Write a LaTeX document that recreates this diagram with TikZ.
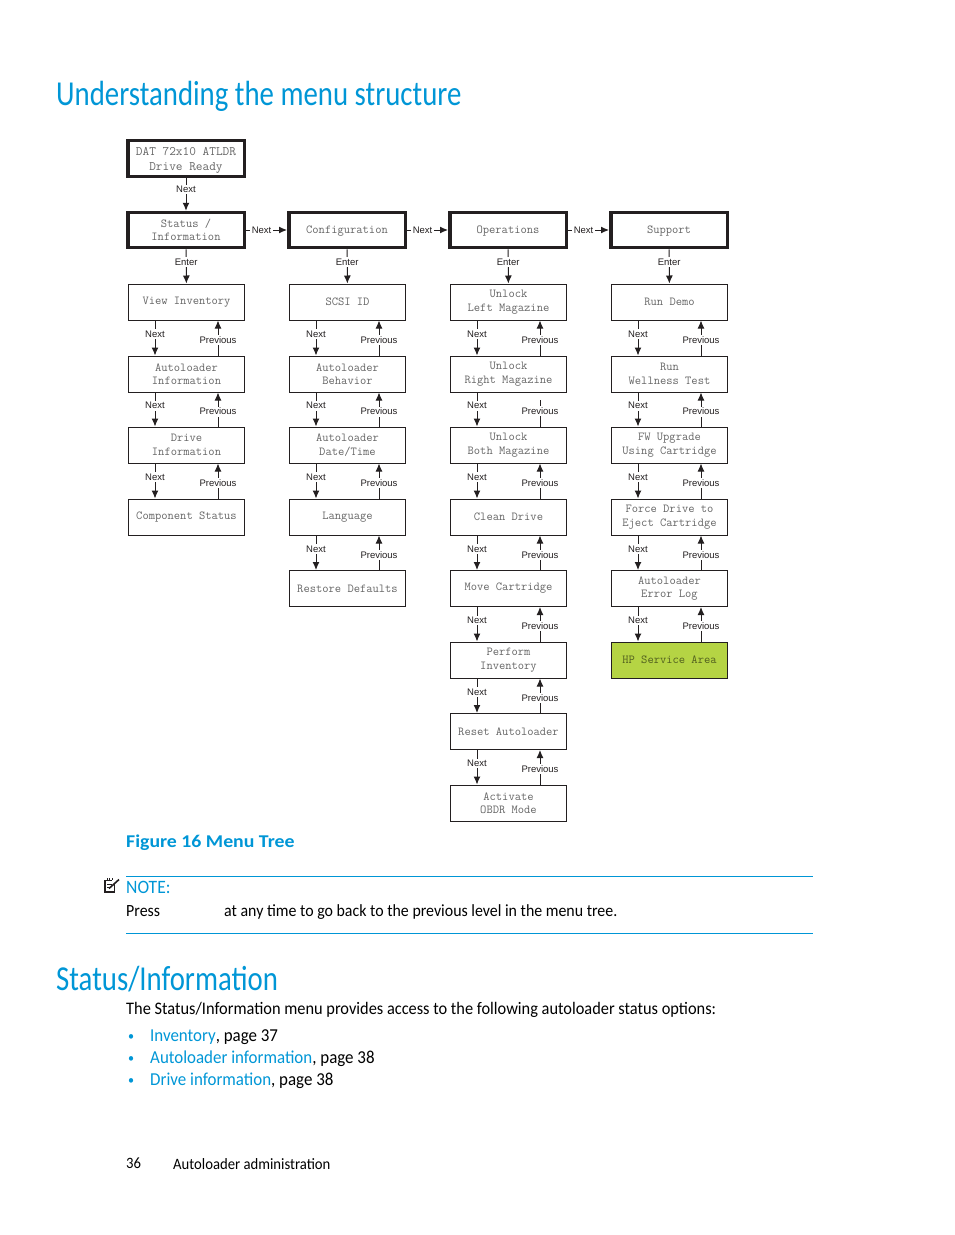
\documentclass[tikz,border=0pt]{standalone}
\usepackage{fontspec}
\usetikzlibrary{arrows.meta,calc}
\setmainfont{Carlito}
\newfontfamily\titlefont[FakeStretch=0.823]{Carlito}
\newfontfamily\bodyfont[FakeStretch=0.93]{Carlito}
\newfontfamily\capfont[FakeStretch=1.1]{Carlito}
\newfontfamily\labfont{Liberation Sans}
\definecolor{hpblue}{HTML}{0096D6}
\definecolor{lcdgray}{HTML}{666666}
\definecolor{linedark}{HTML}{231F20}
\definecolor{hpgreen}{HTML}{B5D444}
\tikzset{
 menubox/.style={draw=linedark,line width=1pt,minimum width=116pt,minimum height=36pt,inner sep=0pt,align=center,
   text=lcdgray,font=\ttfamily\fontsize{12.2}{13.5}\selectfont},
 topbox/.style={menubox,line width=3.5pt,minimum width=116.5pt,minimum height=35pt},
 oneline/.style={text height=9.5pt,text depth=2.5pt},
 greenbox/.style={menubox,fill=hpgreen,text=black!55!hpgreen},
 conn/.style={draw=linedark,line width=1pt,-{Latex[length=8pt,width=7pt]}},
 plainconn/.style={draw=linedark,line width=1pt},
 lab/.style={fill=white,inner sep=1.5pt,text=linedark,font=\labfont\fontsize{9.5}{10}\selectfont},
 title/.style={anchor=base west,inner sep=0pt,text=hpblue,font=\titlefont\fontsize{35}{40}\selectfont},
 body/.style={anchor=base west,inner sep=0pt,text=black,font=\bodyfont\fontsize{17.6}{20}\selectfont},
 notebody/.style={body,font=\bodyfont\fontsize{17.1}{20}\selectfont},
 listbody/.style={body,font=\bodyfont\fontsize{18.2}{20}\selectfont},
 link/.style={listbody,text=hpblue},
 footbody/.style={body,font=\bodyfont\fontsize{15.8}{20}\selectfont},
 rulel/.style={draw=hpblue,line width=1pt},
}
\newcommand{\nxt}[2]{\draw[conn] ($(#1.south)+(-31.5,0)$) -- node[lab,pos=.39] (#1-next) {Next} ($(#2.north)+(-31.5,0)$);}
\newcommand{\prv}[2]{\draw[conn] ($(#2.north)+(31.5,0)$) -- node[lab,pos=.44] (#2-prev) {Previous} ($(#1.south)+(31.5,0)$);}
\newcommand{\both}[2]{\nxt{#1}{#2}\prv{#1}{#2}}
\begin{document}
\begin{tikzpicture}[x=1pt,y=-1pt]
\useasboundingbox (0,0) rectangle (954,1235);
\node[title] (t1) at (56,105) {Understanding the menu structure};
% top row
\node[topbox,minimum height=36pt,font=\ttfamily\fontsize{12.95}{15}\selectfont] (top) at (186,158.5) {\rule{0pt}{11.5pt}DAT 72x10 ATLDR\\Drive Ready};
\node[topbox] (c1) at (186,230) {Status /\\Information};
\node[topbox,oneline] (c2) at (347,230) {Configuration};
\node[topbox,oneline] (c3) at (508,230) {Operations};
\node[topbox,oneline] (c4) at (669,230) {Support};
\draw[conn] (top) -- node[lab,pos=.35] (top-next) {Next} (c1);
\draw[conn] (c1) -- node[lab,pos=.38] (c1-next) {Next} (c2);
\draw[conn] (c2) -- node[lab,pos=.38] (c2-next) {Next} (c3);
\draw[conn] (c3) -- node[lab,pos=.38] (c3-next) {Next} (c4);
% column 1
\node[menubox] (a1) at (186.5,302) {View Inventory};
\node[menubox] (a2) at (186.5,374) {Autoloader\\Information};
\node[menubox] (a3) at (186.5,445) {Drive\\Information};
\node[menubox] (a4) at (186.5,517) {Component Status};
% column 2
\node[menubox] (b1) at (347.5,302) {SCSI ID};
\node[menubox] (b2) at (347.5,374) {Autoloader\\Behavior};
\node[menubox] (b3) at (347.5,445) {Autoloader\\Date/Time};
\node[menubox] (b4) at (347.5,517) {Language};
\node[menubox] (b5) at (347.5,588.5) {Restore Defaults};
% column 3
\node[menubox] (d1) at (508.5,302) {Unlock\\Left Magazine};
\node[menubox] (d2) at (508.5,374) {Unlock\\Right Magazine};
\node[menubox] (d3) at (508.5,445) {Unlock\\Both Magazine};
\node[menubox] (d4) at (508.5,517) {Clean Drive};
\node[menubox] (d5) at (508.5,588.5) {Move Cartridge};
\node[menubox] (d6) at (508.5,660) {Perform\\Inventory};
\node[menubox] (d7) at (508.5,731.5) {Reset Autoloader};
\node[menubox] (d8) at (508.5,803) {Activate\\OBDR Mode};
% column 4
\node[menubox] (e1) at (669.5,302) {Run Demo};
\node[menubox] (e2) at (669.5,374) {Run\\Wellness Test};
\node[menubox] (e3) at (669.5,445) {FW Upgrade\\Using Cartridge};
\node[menubox] (e4) at (669.5,517) {Force Drive to\\Eject Cartridge};
\node[menubox] (e5) at (669.5,588.5) {Autoloader\\Error Log};
\node[greenbox] (e6) at (669.5,660) {HP Service Area};
% enter
\foreach \u/\v in {c1/a1,c2/b1,c3/d1,c4/e1}{
  \draw[conn] (\u) -- node[lab,pos=.37] (\u-enter) {Enter} (\v);
}
\both{a1}{a2}\both{a2}{a3}\both{a3}{a4}
\both{b1}{b2}\both{b2}{b3}\both{b3}{b4}\both{b4}{b5}
\both{d1}{d2}\nxt{d2}{d3}
\coordinate (d2gap) at ($(d2.south)+(31.5,7)$);
\draw[plainconn] ($(d3.north)+(31.5,0)$) -- node[lab,pos=.57] (d3-prev) {Previous} (d2gap);
\both{d3}{d4}\both{d4}{d5}\both{d5}{d6}\both{d6}{d7}\both{d7}{d8}
\both{e1}{e2}\both{e2}{e3}\both{e3}{e4}\both{e4}{e5}\both{e5}{e6}
% caption and note
\node[body,text=hpblue,font=\capfont\bfseries\fontsize{18}{20}\selectfont] (cap) at (126,847) {Figure 16 Menu Tree};
% note icon
\draw[linedark,line width=1.2pt] (114.5,884) -- (114.5,892) -- (105,892) -- (105,880.5) -- (112,880.5);
\draw[linedark,line width=.7pt] (107,884.5) -- (111.5,884.5) (107,887) -- (110,887);
\draw[linedark,line width=1.6pt] (109,888.5) -- (119,879.5);
\draw[linedark,line width=.7pt] (107,880) -- (107,878) (109.5,880) -- (109.5,878) (112,880) -- (112,878);
\coordinate (r1a) at (126,876.5); \coordinate (r1b) at (813,876.5);
\coordinate (r2a) at (126,933.5); \coordinate (r2b) at (813,933.5);
\draw[rulel] (r1a) -- (r1b);
\draw[rulel] (r2a) -- (r2b);
\node[body,text=hpblue,font=\bodyfont\fontsize{18.9}{20}\selectfont] (note) at (126,893) {NOTE:};
\node[notebody] (press) at (126,916.5) {Press};
\node[notebody] (press2) at (224,916.5) {at any time to go back to the previous level in the menu tree.};
\node[title] (t2) at (56,990) {Status/Information};
\node[body] (intro) at (126,1014) {The Status/Information menu provides access to the following autoloader status options:};
\node[link,font=\bodyfont\fontsize{13}{20}\selectfont] (b1m) at (128,1040) {•};
\node[link] (l1) at (150,1041) {Inventory\textcolor{black}{, page 37}};
\node[link,font=\bodyfont\fontsize{13}{20}\selectfont] (b2m) at (128,1062) {•};
\node[link] (l2) at (150,1063) {Autoloader information\textcolor{black}{, page 38}};
\node[link,font=\bodyfont\fontsize{13}{20}\selectfont] (b3m) at (128,1084) {•};
\node[link] (l3) at (150,1085) {Drive information\textcolor{black}{, page 38}};
\node[footbody] (pg) at (126,1168) {36};
\node[footbody] (foot) at (173,1169) {Autoloader administration};
\end{tikzpicture}
\end{document}
